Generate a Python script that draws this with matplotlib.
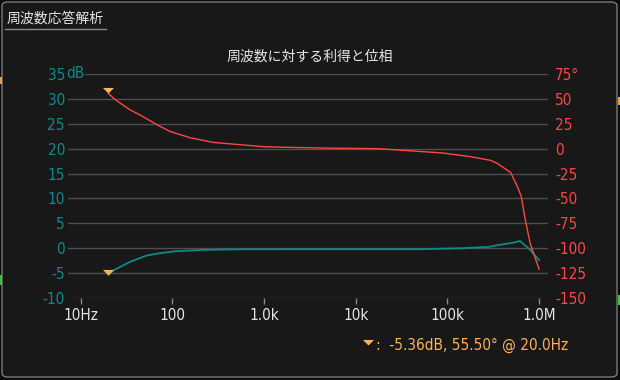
import matplotlib
matplotlib.use("Agg")
import matplotlib.pyplot as plt
from matplotlib import font_manager
from matplotlib.patches import FancyBboxPatch, Rectangle
from matplotlib.path import Path

# 細い数字フォントを探す（無ければ通常の DejaVu Sans）
NUM_FONT = dict(family="DejaVu Sans")
try:
    font_manager.findfont("Liberation Sans Narrow", fallback_to_default=False)
    NUM_FONT = dict(family="Liberation Sans Narrow")
except Exception:
    p = font_manager.findfont(font_manager.FontProperties(family="DejaVu Sans",
                                                          stretch="condensed"))
    if "Condensed" in p:
        NUM_FONT = dict(family="DejaVu Sans", stretch="condensed")

plt.rcParams['font.family'] = [NUM_FONT["family"], 'Noto Sans CJK JP', 'DejaVu Sans']
if "stretch" in NUM_FONT:
    plt.rcParams['font.stretch'] = NUM_FONT["stretch"]

# 利得（dB）の読み取り値
gain_freq = [20, 23, 34.5, 52, 73, 109, 215, 500, 2000, 10000, 50000, 140000,
             280000, 350000, 520000, 620000, 800000, 1000000]
gain_db = [-5.36, -4.4, -2.74, -1.48, -1.0, -0.6, -0.34, -0.22, -0.2, -0.2, -0.2, 0.0,
           0.26, 0.6, 1.1, 1.46, -0.3, -2.4]

# 位相（°）の読み取り値
phase_freq = [20, 23.7, 34.5, 44, 65, 94, 156, 278, 548, 977, 1930, 5000, 17600,
              45000, 90000, 178000, 295000, 350000, 490000, 580000, 640000, 710000,
              800000, 1000000]
phase_deg = [55.5, 49.3, 39, 34, 25, 17.3, 11, 6.3, 4, 2, 1.3, 0.5, 0, -2.5, -4.4,
             -8, -11.7, -14.7, -24, -38, -48, -72, -95, -121]

x_ticks = [10, 100, 1000, 10000, 100000, 1000000]
x_labels = ["10Hz", "100", "1.0k", "10k", "100k", "1.0M"]
gain_ticks = [35, 30, 25, 20, 15, 10, 5, 0, -5, -10]
phase_ticks = [75, 50, 25, 0, -25, -50, -75, -100, -125, -150]

marker_freq = 20
marker_gain = -5.36
marker_phase = 55.5
marker_text = "-5.36dB, 55.50° @ 20.0Hz"

BG = "#181818"
GRID = "#4e4e4e"
TEAL = "#0f8a8a"
RED = "#ff4646"
ORANGE = "#ffb25a"
WHITE = "#e6e6e6"

W, H = 620, 380
fig = plt.figure(figsize=(W / 100, H / 100), dpi=100, facecolor="#0c0c0c")

def px(x, y):
    return x / W, 1 - y / H

# 外枠
frame = FancyBboxPatch(px(2, 377), 615 / W, 375 / H,
                       boxstyle="round,pad=0,rounding_size=0.01",
                       transform=fig.transFigure, facecolor=BG,
                       edgecolor="#7a7a7a", lw=1.0, zorder=-5)
fig.patches.append(frame)
for (x0, y0, w, h, c) in [(0, 77, 2, 7, "#e0a050"), (0, 275, 2, 10, "#40c040"),
                          (618, 97, 2, 8, "#e0a050"), (618, 295, 2, 10, "#40c040")]:
    fig.patches.append(Rectangle(px(x0, y0 + h), w / W, h / H, zorder=-4,
                                 transform=fig.transFigure, color=c, lw=0))

fig.text(*px(7, 19), "周波数応答解析", color=WHITE, fontsize=10,
         family=['Noto Sans CJK JP'], va="center", ha="left")
fig.add_artist(plt.Line2D([5 / W, 106 / W], [1 - 29 / H] * 2,
                          transform=fig.transFigure, color="#8a8a8a", lw=1))
fig.text(*px(310, 57), "周波数に対する利得と位相", color=WHITE, fontsize=10,
         family=['Noto Sans CJK JP'], va="center", ha="center")

l, r, t, b = 68, 548, 74, 298
ax = fig.add_axes([l / W, 1 - b / H, (r - l) / W, (b - t) / H])
ax.set_facecolor("none")
ax2 = ax.twinx()

for a in (ax, ax2):
    for s in a.spines.values():
        s.set_visible(False)

ax.set_xscale("log")
ax.set_xlim(10 ** 0.861, 10 ** 6.098)
ax.set_ylim(-10, 35)
ax2.set_ylim(-150, 75)

ax.set_xticks(x_ticks)
ax.set_xticklabels(x_labels)
ax.xaxis.set_minor_locator(matplotlib.ticker.NullLocator())
ax.tick_params(axis="x", colors="#8a8a8a", length=4, width=1, pad=3,
               labelcolor=WHITE, labelsize=11)

ax.set_yticks(gain_ticks)
ax.set_yticklabels([str(v) for v in gain_ticks])
ax.tick_params(axis="y", length=0, pad=2.2, labelcolor=TEAL, labelsize=11)
ax2.set_yticks(phase_ticks)
ax2.set_yticklabels(["75°"] + [str(v) for v in phase_ticks[1:]])
ax2.tick_params(axis="y", length=0, pad=5, labelcolor=RED, labelsize=11)

ax.grid(axis="y", color=GRID, lw=1.0)
ax.set_axisbelow(True)

# 35 の右に単位 dB（グリッド線を背景色で隠す）
ax.annotate("dB", xy=(0, 35), xycoords=("axes fraction", "data"),
            xytext=(-2, 0), textcoords="offset pixels", ha="left", va="center",
            color=TEAL, fontsize=11, annotation_clip=False, zorder=5,
            bbox=dict(facecolor=BG, edgecolor="none", pad=0.5))

ax.plot(gain_freq, gain_db, color=TEAL, lw=1.3, zorder=3)
ax2.plot(phase_freq, phase_deg, color=RED, lw=1.0, zorder=3)

tri = Path([(-1, 1), (1, 1), (0, 0), (-1, 1)],
           [Path.MOVETO, Path.LINETO, Path.LINETO, Path.CLOSEPOLY])
ax.plot([marker_freq], [marker_gain], marker=tri, ms=8, color=ORANGE, mew=0,
        zorder=6, clip_on=False)
ax2.plot([marker_freq], [marker_phase], marker=tri, ms=8, color=ORANGE, mew=0,
         zorder=6, clip_on=False)

fig.add_artist(plt.Line2D([368 / W], [1 - 345 / H], transform=fig.transFigure,
                          marker=tri, ms=8, color=ORANGE, mew=0, ls="none"))
fig.text(*px(376, 345), ":  " + marker_text, color=ORANGE, fontsize=11,
         va="center", ha="left")

fig.savefig("out.png", dpi=100, facecolor=fig.get_facecolor())
